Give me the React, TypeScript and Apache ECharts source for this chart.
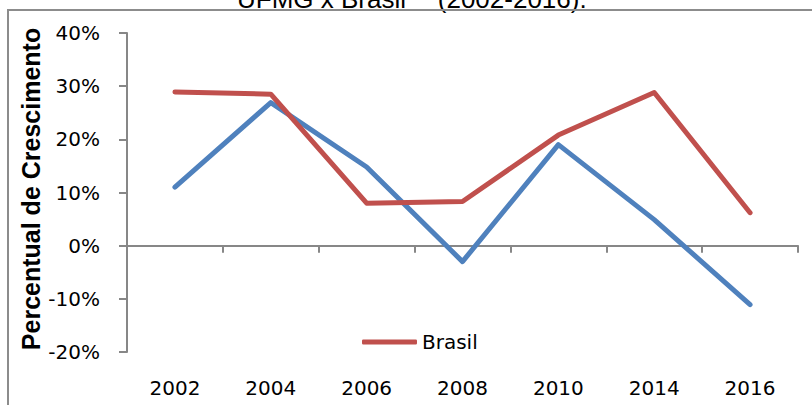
import React, { useEffect, useRef } from "react";
import * as echarts from "echarts";

const categories = ["2002", "2004", "2006", "2008", "2010", "2014", "2016"];
const ufmgValues = [11.0, 26.9, 14.8, -3.0, 19.0, 4.9, -11.1];
const brasilValues = [28.9, 28.5, 8.0, 8.3, 20.8, 28.8, 6.2];
const yMin = -20;
const yMax = 40;
const yInterval = 10;
const titleText = "UFMG x Brasil*   (2002-2016).";
const yAxisTitle = "Percentual de Crescimento";

const LABEL_FONT = "'DejaVu Sans', 'Liberation Sans', sans-serif";

export default function App() {
  const ref = useRef<HTMLDivElement>(null);
  useEffect(() => {
    document.body.style.margin = "0";
    const chart = echarts.init(ref.current!, null, { renderer: "svg" });
    const axisGray = "#878787";
    chart.setOption({
      animation: false,
      backgroundColor: "#ffffff",
      grid: { left: 127, right: 14, top: 33, bottom: 53, containLabel: false },
      legend: {
        data: ["Brasil"],
        left: 357,
        top: 327,
        icon: "roundRect",
        itemWidth: 55,
        itemHeight: 5,
        itemGap: 10,
        textStyle: { fontFamily: LABEL_FONT, fontSize: 20, color: "#000" },
      },
      xAxis: [
        {
          type: "category",
          data: categories,
          position: "bottom",
          boundaryGap: true,
          axisLine: { show: false, onZero: false },
          axisTick: { show: false },
          splitLine: { show: false },
          axisLabel: { fontFamily: LABEL_FONT, fontSize: 20, color: "#000", margin: 26 },
        },
        {
          type: "category",
          data: categories,
          position: "bottom",
          boundaryGap: true,
          axisLine: { show: true, onZero: true, lineStyle: { color: axisGray, width: 2 } },
          axisTick: { show: true, inside: false, length: 7, lineStyle: { color: axisGray, width: 2 } },
          axisLabel: { show: false },
          splitLine: { show: false },
        },
      ],
      yAxis: {
        type: "value",
        min: yMin,
        max: yMax,
        interval: yInterval,
        axisLine: { show: true, lineStyle: { color: axisGray, width: 2 } },
        axisTick: { show: true, inside: false, length: 8, lineStyle: { color: axisGray, width: 2 } },
        splitLine: { show: false },
        axisLabel: {
          formatter: "{value}%",
          fontFamily: LABEL_FONT,
          fontSize: 20,
          color: "#000",
          margin: 27,
        },
      },
      series: [
        {
          name: "UFMG",
          type: "line",
          xAxisIndex: 0,
          data: ufmgValues,
          symbol: "none",
          lineStyle: { color: "#4F81BD", width: 5, cap: "round", join: "round" },
          itemStyle: { color: "#4F81BD" },
        },
        {
          name: "Brasil",
          type: "line",
          xAxisIndex: 0,
          data: brasilValues,
          symbol: "none",
          lineStyle: { color: "#C0504D", width: 5, cap: "round", join: "round" },
          itemStyle: { color: "#C0504D" },
        },
      ],
      graphic: [
        {
          type: "text",
          x: 237,
          y: -1,
          style: {
            text: titleText,
            font: "26px 'Liberation Sans', Arial, sans-serif",
            fill: "#000",
            align: "left",
            verticalAlign: "middle",
          },
        },
        {
          type: "line",
          shape: { x1: 7, y1: 10, x2: 812, y2: 10 },
          style: { stroke: "#8c8c8c", lineWidth: 2 },
        },
        {
          type: "line",
          shape: { x1: 8, y1: 10, x2: 8, y2: 405 },
          style: { stroke: "#8c8c8c", lineWidth: 2 },
        },
        {
          type: "text",
          x: 31,
          y: 189,
          rotation: Math.PI / 2,
          style: {
            text: yAxisTitle,
            font: "bold 25px 'Liberation Sans', Arial, sans-serif",
            fill: "#000",
            align: "center",
            verticalAlign: "middle",
          },
        },
      ],
    });
    return () => chart.dispose();
  }, []);
  return (
    <div
      ref={ref}
      style={{ position: "absolute", left: 0, top: 0, width: 812, height: 405, overflow: "hidden" }}
    />
  );
}
